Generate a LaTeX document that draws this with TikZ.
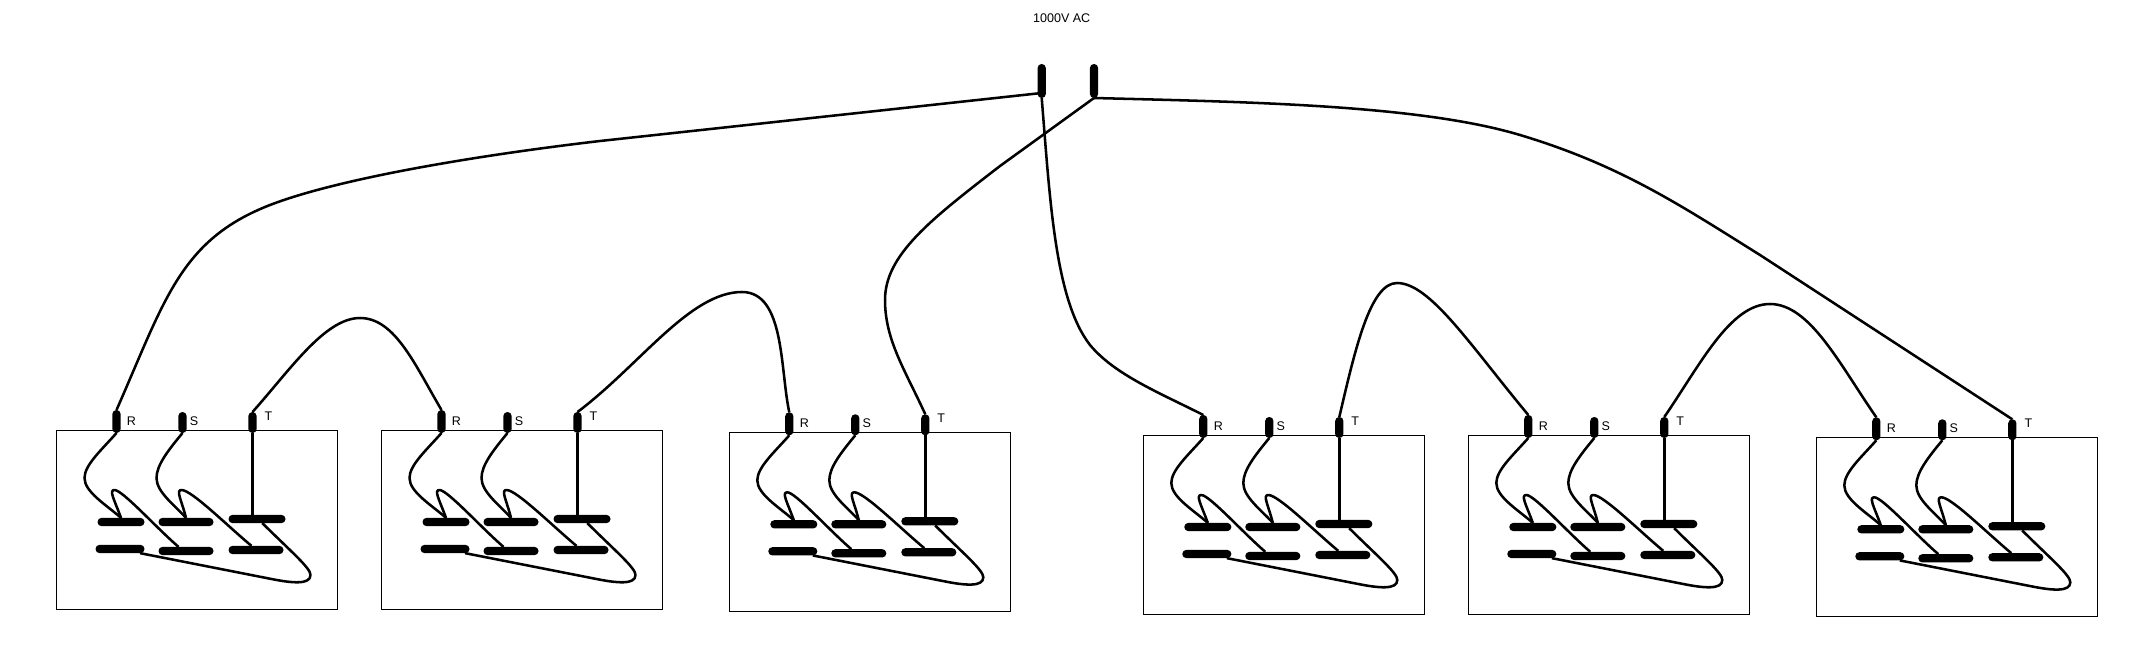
\documentclass[tikz,border=0pt]{standalone}
\usepackage{fontspec}
\setmainfont{Liberation Sans}
\usetikzlibrary{calc,positioning}

\begin{document}
\begin{tikzpicture}
[x=0.75pt,y=-0.75pt,wire/.style={line width=1.9pt,line join=round},
panel/.style={draw,line width=0.75pt,inner sep=0,outer sep=0,anchor=north west,
	minimum width=210.75pt,minimum height=134.25pt},
term/.style={fill=black,inner sep=0,outer sep=0,rounded corners=3pt,
	minimum width=6.2pt,minimum height=#1*0.75pt},
plate/.style={fill=black,inner sep=0,outer sep=0,rounded corners=3pt,
	minimum height=6.2pt,minimum width=#1*0.75pt},
tag/.style={inner sep=0,font=\fontsize{9.4pt}{11pt}\selectfont}]

\useasboundingbox (0,0) rectangle (2136,660);

\node[tag] (volt) at (1061.7,18.3) {1000V AC};
\node[term=34] (srcA) at (1041.7,81) {};
\node[term=34] (srcB) at (1094,81) {};

\foreach \pnl/\px/\py in {p1/56.5/430,p2/381.5/430,p3/729.3/432.3,p4/1143.3/435,p5/1468.3/435,p6/1816.3/437.3}{
\begin{scope}[shift={(\px,\py)}]
\node[panel] (\pnl box) at (0,0) {};
\node[term=23] (\pnl R) at (60,-8.5) {};
\node[term=21] (\pnl S) at (126,-7.5) {};
\node[term=21] (\pnl T) at (196,-7.5) {};
\node[tag] (\pnl Rtag) at (75,-9) {R};
\node[tag] (\pnl Stag) at (137.5,-9) {S};
\node[tag] (\pnl Ttag) at (212,-14) {T};
\node[plate=47] (\pnl Ra) at (64.5,92) {};
\node[plate=55] (\pnl Sa) at (129.5,92) {};
\node[plate=57] (\pnl Ta) at (200.5,89) {};
\node[plate=49] (\pnl Rb) at (63.5,119) {};
\node[plate=55] (\pnl Sb) at (129.5,121) {};
\node[plate=55] (\pnl Tb) at (199.5,120) {};
\draw[wire] (\pnl R.south) .. controls (45,20) and (28,35) .. (28,48)
	.. controls (28,62) and (50,75) .. (\pnl Ra.north);
\draw[wire] (\pnl S.south) .. controls (112,20) and (100,35) .. (100,48)
	.. controls (100,62) and (118,75) .. (\pnl Sa.north);
\draw[wire] (\pnl T) -- (\pnl T |- \pnl Ta);
\draw[wire] (\pnl Ra.north) .. controls (58,70) and (52,60) .. (58,60)
	.. controls (66,60) and (100,98) .. ([xshift=-5.6pt]\pnl Sb.north);
\draw[wire] (\pnl Sa.north) .. controls (125,70) and (119,60) .. (125,60)
	.. controls (135,60) and (170,95) .. ([xshift=-3.4pt]\pnl Tb.north);
\draw[wire] ([xshift=4pt]\pnl Ta.south) .. controls (235,122) and (254,138) .. (254,145)
	.. controls (254,155) and (235,153) .. (215,149) -- ([xshift=15pt]\pnl Rb.south);
\end{scope}
}

\draw[wire] ([yshift=-9pt]srcA.center) -- (600,141) .. controls (480,155) and (340,178) .. (270,205)
	.. controls (180,240) and (165,300) .. (p1R.north);
\draw[wire] (p1T.north) .. controls (290,370) and (325,318) .. (360,318)
	.. controls (395,318) and (415,365) .. (p2R.north);
\draw[wire] (p2T.north) .. controls (640,365) and (690,292) .. (742,292)
	.. controls (785,292) and (780,370) .. (p3R.north);
\draw[wire] (srcB.south) -- (1000,166) .. controls (930,220) and (885,255) .. (885,300)
	.. controls (885,340) and (905,370) .. (p3T.north);
\draw[wire] (srcA.south) .. controls (1050,200) and (1055,300) .. (1090,345)
	.. controls (1115,375) and (1160,393) .. (p4R.north);
\draw[wire] (p4T.north) .. controls (1355,350) and (1370,283) .. (1397,283)
	.. controls (1430,283) and (1470,345) .. (p5R.north);
\draw[wire] (p5T.north) .. controls (1700,365) and (1730,304) .. (1770,304)
	.. controls (1810,304) and (1840,365) .. (p6R.north);
\draw[wire] (srcB.south) .. controls (1250,102) and (1420,105) .. (1520,135)
	.. controls (1620,165) and (1680,205) .. (1760,255) -- (p6T.north);
\end{tikzpicture}
\end{document}
